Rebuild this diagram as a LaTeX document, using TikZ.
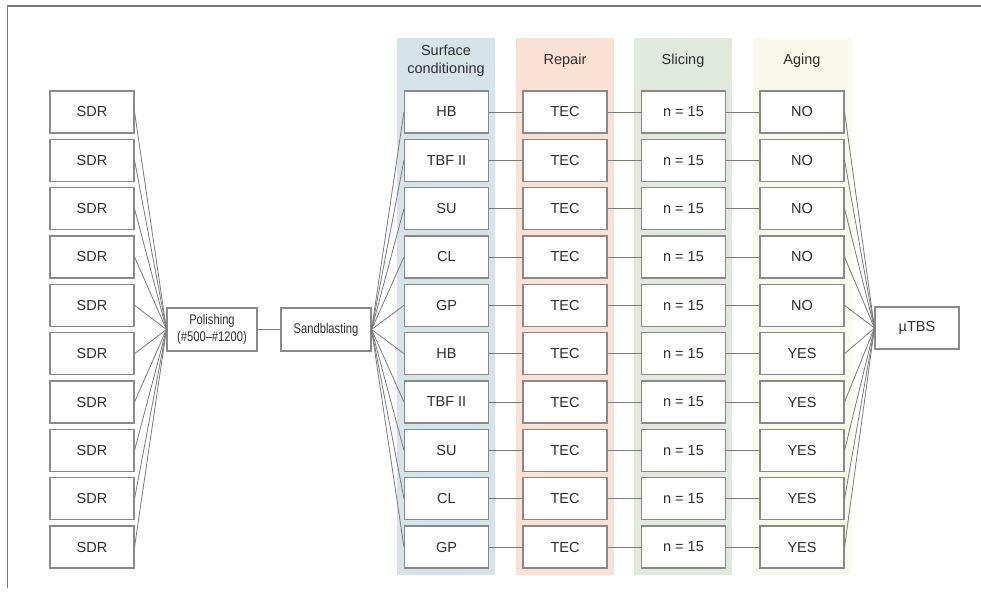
\documentclass[tikz,border=0pt]{standalone}
\usepackage{fontspec}
\setmainfont{Liberation Sans}
\newfontfamily\narrowfont[FakeStretch=0.8]{Liberation Sans}
\definecolor{bxline}{HTML}{8A8A8A}
\definecolor{conn}{HTML}{7A7A7A}
\definecolor{txt}{HTML}{2E2E2E}
\definecolor{colA}{HTML}{D4E4E9}
\definecolor{colB}{HTML}{FBE1D3}
\definecolor{colC}{HTML}{E1E9DF}
\definecolor{colD}{HTML}{F8F9EA}
\begin{document}
\begin{tikzpicture}[x=1pt,y=-1pt,
  stepbox/.style={draw=bxline,line width=1.1pt,fill=white,minimum width=84pt,minimum height=42pt,inner sep=0pt,text=txt,font=\fontsize{14.5}{16}\selectfont},
  midbox/.style={draw=bxline,line width=1.1pt,fill=white,minimum width=90pt,minimum height=43pt,inner sep=0pt,text=txt,align=center,font=\narrowfont\fontsize{14}{17}\selectfont},
  hdr/.style={text=txt,align=center,font=\fontsize{14.5}{18}\selectfont},
  link/.style={draw=conn,line width=0.8pt}]
\useasboundingbox (0,0) rectangle (981,598);
% frame
\draw[conn,line width=1.2pt] (981,6) -- (7.5,6) -- (7.5,588);
% column backgrounds
\fill[colA] (397,38) rectangle (495,575);
\fill[colB] (516,38) rectangle (614,575);
\fill[colC] (634,38) rectangle (732,575);
\fill[colD] (753,38) rectangle (851,575);
\node[hdr] (h1) at (446,61) {Surface\\conditioning};
\node[hdr] (h2) at (565,61) {Repair};
\node[hdr] (h3) at (683,61) {Slicing};
\node[hdr] (h4) at (802,61) {Aging};
% middle nodes
\node[midbox] (pol) at (212,329.5) {Polishing\\(\#500–\#1200)};
\node[midbox] (sand) at (326,329.5) {Sandblasting};
\node[stepbox] (tbs) at (917,328) {µTBS};
\draw[link] (pol.east) -- (sand.west);
% rows
\foreach \i/\sc/\ag in {0/HB/NO,1/TBF II/NO,2/SU/NO,3/CL/NO,4/GP/NO,5/HB/YES,6/TBF II/YES,7/SU/YES,8/CL/YES,9/GP/YES}{
  \pgfmathsetmacro{\yy}{112+\i*48.333}
  \node[stepbox] (sdr\i) at (92,\yy) {SDR};
  \node[stepbox] (sc\i) at (446.5,\yy) {\sc};
  \node[stepbox] (rp\i) at (565,\yy) {TEC};
  \node[stepbox] (sl\i) at (683.5,\yy) {n = 15};
  \node[stepbox] (ag\i) at (802,\yy) {\ag};
  \draw[link] (sdr\i.east) -- (pol.west);
  \draw[link] (sand.east) -- (sc\i.west);
  \draw[link] (sc\i.east) -- (rp\i.west);
  \draw[link] (rp\i.east) -- (sl\i.west);
  \draw[link] (sl\i.east) -- (ag\i.west);
  \draw[link] (ag\i.east) -- (tbs.west);
}
\end{tikzpicture}
\end{document}
